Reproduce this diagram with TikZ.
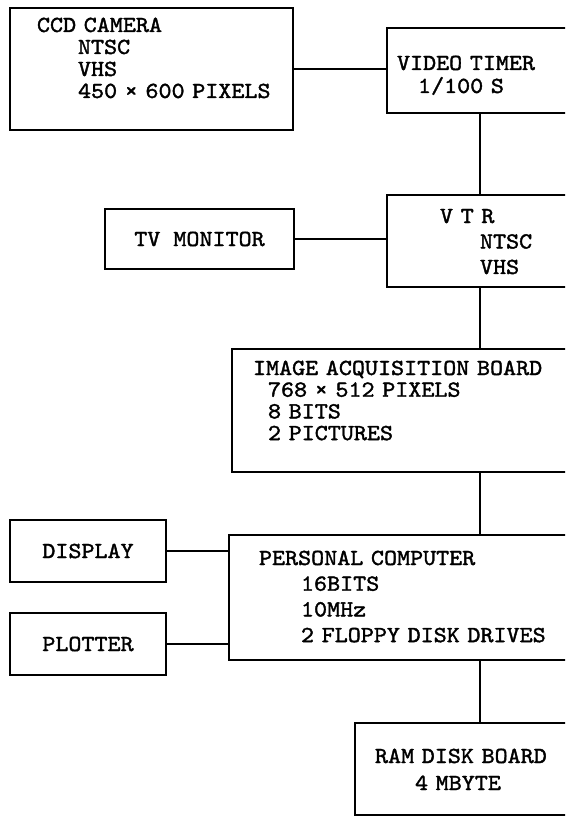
\documentclass[tikz,border=0pt]{standalone}
\usepackage{fontspec}
\newfontfamily\typefont{lmmono10-regular.otf}[FakeStretch=1.08,FakeBold=1.6]
\newcommand{\ind}[1]{\hspace*{#1pt}}
\newcommand{\boxfont}[1]{\typefont\fontsize{23}{#1}\selectfont}

\begin{document}
\begin{tikzpicture}[
    x=1pt, y=-1pt,
    unit/.style={
        rectangle, draw, line width=1.7pt, anchor=north west,
        inner sep=0pt, outer sep=0pt, align=left
    },
    side/.style={
        rectangle, draw, line width=1.7pt, anchor=north west,
        inner sep=0pt, outer sep=0pt, align=center,
        minimum width=156pt, minimum height=62pt, font=\boxfont{22}
    },
    link/.style={line width=1.7pt}
]
\useasboundingbox (0,0) rectangle (565,818);
\clip (0,0) rectangle (565,818);

% main chain
\node[unit, text width=283pt, text height=24pt, text depth=98pt, font=\boxfont{22}] (camera) at (10,8)
    {\ind{27}CCD CAMERA\\\ind{68}NTSC\\\ind{68}VHS\\\ind{68}450 × 600 PIXELS};
\node[unit, text width=233pt, text height=42pt, text depth=43pt, font=\boxfont{23}] (timer) at (387,28)
    {\ind{10}VIDEO TIMER\\\ind{31}1/100 S};
\node[unit, text width=233pt, text height=28pt, text depth=64pt, font=\boxfont{25.5}] (vtr) at (387,195)
    {\ind{53}V T R\\\ind{93}NTSC\\\ind{93}VHS};
\node[unit, text width=388pt, text height=26pt, text depth=97pt, font=\boxfont{21.7}] (board) at (232,349)
    {\ind{21}IMAGE ACQUISITION BOARD\\\ind{36}768 × 512 PIXELS\\\ind{36}8 BITS\\\ind{36}2 PICTURES};
\node[unit, text width=391pt, text height=30pt, text depth=95pt, font=\boxfont{25.7}] (pc) at (229,535)
    {\ind{30}PERSONAL COMPUTER\\\ind{72}16BITS\\\ind{72}10MHz\\\ind{72}2 FLOPPY DISK DRIVES};
\node[unit, text width=265pt, text height=40pt, text depth=52pt, font=\boxfont{27}] (ramdisk) at (355,723)
    {\ind{20}RAM DISK BOARD\\\ind{60}4 MBYTE};

% side units
\node[side, minimum width=189pt, minimum height=60pt] (monitor) at (105,209) {TV MONITOR};
\node[side] (display) at (10,520) {DISPLAY};
\node[side] (plotter) at (10,613) {PLOTTER};

\coordinate (spine) at (480,0);

\draw[link] (camera.east) -- (camera.east -| timer.west);
\draw[link] (spine |- timer.south) -- (spine |- vtr.north);
\draw[link] (monitor.east) -- (monitor.east -| vtr.west);
\draw[link] (spine |- vtr.south) -- (spine |- board.north);
\draw[link] (spine |- board.south) -- (spine |- pc.north);
\draw[link] (display.east) -- (display.east -| pc.west);
\draw[link] (plotter.east) -- (plotter.east -| pc.west);
\draw[link] (spine |- pc.south) -- (spine |- ramdisk.north);

\end{tikzpicture}
\end{document}
